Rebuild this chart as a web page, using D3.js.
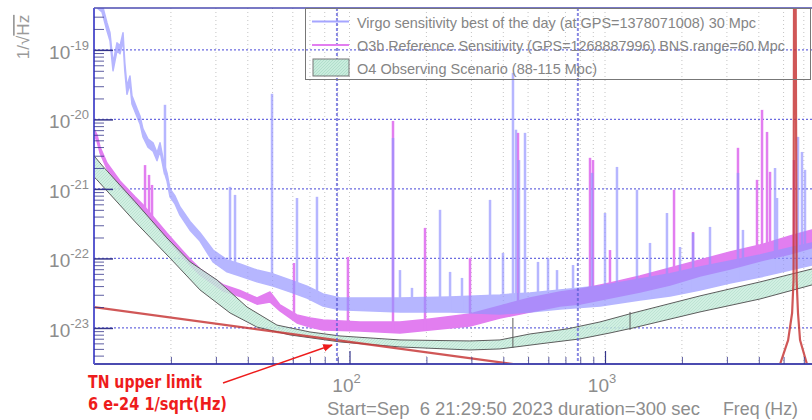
<!DOCTYPE html>
<html>
<head>
<meta charset="utf-8">
<script src="https://cdn.jsdelivr.net/npm/d3@7"></script>
<style>
  body { margin: 0; background: #fff; }
  svg { display: block; }
</style>
</head>
<body>
<div id="chart"></div>
<script>
// Virgo sensitivity, best of the day: noise band (upper / lower edge) in 1/sqrt(Hz)
const virgoFreq = [10, 10.37, 10.75, 11.24, 11.55, 11.87, 12.30, 12.64, 12.99, 13.20, 13.46, 13.83, 14.08, 14.74, 15.14, 15.55, 16.27, 17.02, 17.65, 18.13, 18.78, 19.31, 19.84, 20.75, 21.71, 23.76, 25.99, 29.23, 33.16, 37.28, 43.45, 50.19, 58.49, 68.2, 78.8, 91.8, 157.6, 247.5, 388.2, 508.7, 666.6, 955.9, 1371, 1797, 2354, 3085, 4044, 5298, 6460];
const virgoHi = [1.0e-18, 5.0e-19, 4.6e-19, 2.45e-19, 1.76e-19, 6.5e-20, 1.26e-19, 1.14e-19, 1.76e-19, 6.5e-20, 3.0e-20, 4.2e-20, 2.18e-20, 1.42e-20, 1.12e-20, 7.3e-21, 5.2e-21, 4.6e-21, 3.3e-21, 4.6e-21, 2.36e-21, 1.7e-21, 1.0e-21, 7.9e-22, 5.5e-22, 3.4e-22, 2.35e-22, 1.32e-22, 9.5e-23, 8.3e-23, 6.8e-23, 6.0e-23, 4.9e-23, 4.0e-23, 3.08e-23, 2.7e-23, 2.7e-23, 2.79e-23, 2.99e-23, 3.19e-23, 3.52e-23, 4.0e-23, 5.07e-23, 6.0e-23, 7.55e-23, 9.2e-23, 1.12e-22, 1.42e-22, 1.67e-22];
const virgoLo = [8.0e-19, 3.9e-19, 3.5e-19, 1.88e-19, 1.35e-19, 5.0e-20, 9.7e-20, 8.8e-20, 1.35e-19, 5.0e-20, 2.3e-20, 3.24e-20, 1.67e-20, 1.09e-20, 8.6e-21, 5.6e-21, 4.0e-21, 3.5e-21, 2.55e-21, 3.5e-21, 1.81e-21, 1.3e-21, 7.7e-22, 6.1e-22, 4.2e-22, 2.55e-22, 1.78e-22, 8.9e-23, 6.4e-23, 5.6e-23, 4.6e-23, 4.0e-23, 3.3e-23, 2.7e-23, 2.07e-23, 1.82e-23, 1.70e-23, 1.70e-23, 1.59e-23, 1.70e-23, 1.88e-23, 2.07e-23, 2.53e-23, 2.88e-23, 3.52e-23, 4.44e-23, 5.4e-23, 6.8e-23, 8.05e-23];
// lines: [frequency, peak value]
const virgoSpikes = [[18.96, 1.62e-20], [34.07, 1.07e-21], [35.64, 8.2e-22], [49.74, 2.33e-20], [62.3, 7.4e-22], [74.6, 7.7e-22], [148.0, 5.4e-21], [157.6, 6.8e-23], [175.6, 3.77e-23], [226.1, 5.0e-22], [247.5, 6.4e-23], [275.6, 5.24e-23], [354.8, 6.95e-22], [398.8, 1.2e-22], [436.4, 4.67e-20], [448.4, 7.1e-21], [460.7, 2.6e-21], [486.3, 6.4e-21], [546.7, 8.9e-23], [598.4, 1.02e-22], [648.9, 6.8e-23], [749.7, 8.05e-23], [889.6, 1.70e-21], [1000, 4.5e-22], [1114, 2.07e-21], [1334, 9.7e-22], [1500, 1.67e-22], [1748, 4.5e-22], [1966, 1.46e-22], [2211, 2.33e-22], [2576, 2.84e-22], [3315, 1.70e-21], [3467, 2.57e-22], [4629, 2.0e-21], [4713, 7.4e-22], [5693, 5.6e-21], [5902, 3.4e-21], [6064, 1.88e-21]];

// O3b reference sensitivity
const o3bFreq = [10, 10.27, 10.56, 11.24, 12.64, 14.47, 15.55, 17.33, 19.31, 21.71, 23.76, 25.99, 29.23, 31.98, 37.28, 43.45, 48.85, 53.46, 62.3, 70.1, 78.8, 109.9, 157.6, 206.6, 296.2, 388.2, 508.7, 666.6, 798.4, 1046, 1371, 1797, 2354, 3085, 4044, 5298, 6460];
const o3bHi = [7.3e-21, 6.0e-21, 4.0e-21, 2.36e-21, 1.3e-21, 7.7e-22, 5.9e-22, 3.7e-22, 2.3e-22, 1.41e-22, 9.8e-23, 7.1e-23, 5.2e-23, 4.2e-23, 3.45e-23, 2.7e-23, 3.3e-23, 2.14e-23, 1.54e-23, 1.39e-23, 1.30e-23, 1.22e-23, 1.22e-23, 1.35e-23, 1.59e-23, 2.07e-23, 2.7e-23, 3.3e-23, 3.6e-23, 4.44e-23, 5.6e-23, 7.3e-23, 9.5e-23, 1.24e-22, 1.56e-22, 2.1e-22, 2.57e-22];
const o3bLo = [6.0e-21, 4.9e-21, 3.3e-21, 1.94e-21, 1.07e-21, 6.3e-22, 4.8e-22, 3.0e-22, 1.9e-22, 1.16e-22, 8.1e-23, 5.8e-23, 4.3e-23, 3.4e-23, 2.84e-23, 2.2e-23, 2.37e-23, 1.76e-23, 1.18e-23, 1.03e-23, 9.35e-24, 9.05e-24, 8.47e-24, 9.35e-24, 1.07e-23, 1.39e-23, 1.7e-23, 2.07e-23, 2.21e-23, 2.7e-23, 3.3e-23, 4.16e-23, 5.6e-23, 7.06e-23, 9.2e-23, 1.16e-22, 1.42e-22];
const o3bSpikes = [[15.84, 2.2e-21], [16.42, 1.59e-21], [16.87, 1.14e-21], [60.64, 8.6e-23], [98.6, 1.05e-22], [148.0, 9.5e-21], [197.5, 2.75e-22], [296.2, 1.02e-22], [456.6, 6.4e-21], [873.7, 2.8e-21], [897.6, 2.6e-21], [1046, 1.32e-22], [1863, 9.7e-22], [2211, 2.4e-22], [3315, 3.9e-21], [3935, 1.35e-21], [4117, 1.37e-20], [4307, 6.6e-21], [4425, 1.76e-21], [5493, 2.6e-21]];

// O4 observing scenario band (88-115 Mpc)
const o4UpperFreq = [10, 10.8, 14.5, 19.3, 23.8, 30.3, 39.7, 52.0, 70, 91.8, 157.6, 296, 388, 509, 710, 956, 1287, 2354, 4044, 6460, 10000];
const o4Upper = [2.99e-21, 2.14e-21, 6.5e-22, 1.97e-22, 8.9e-23, 4.9e-23, 2.0e-23, 1.10e-23, 8.75e-24, 7.67e-24, 6.72e-24, 6.5e-24, 6.72e-24, 8.2e-24, 9.67e-24, 1.22e-23, 1.64e-23, 2.89e-23, 4.59e-23, 7.06e-23, 1.06e-22];
const o4LowerFreq = [10, 10.27, 14.5, 19.8, 26.0, 34.1, 43.4, 58.5, 91.8, 157.6, 296, 388, 593, 798, 1046, 1287, 2354, 4044, 6460, 10000];
const o4Lower = [1.49e-21, 1.35e-21, 3.35e-22, 1.02e-22, 3.52e-23, 1.64e-23, 1.03e-23, 7.93e-24, 6.29e-24, 5.33e-24, 4.82e-24, 4.99e-24, 6.08e-24, 6.95e-24, 8.47e-24, 1.0e-23, 1.70e-23, 2.61e-23, 4.16e-23, 6.4e-23];
// small lines on the band: [frequency, top, bottom]
const o4Lines = [[436, 1.39e-23, 5.15e-24], [1253, 1.70e-23, 9.35e-24]];

// thermal noise upper limit, with the resonance near 5.5 kHz
const tnFreq = [10, 100, 1000, 4500, 4842, 5209, 5399, 5470, 5500, 5560, 5623, 5693, 5799, 6175, 7000];
const tnAsd = [2.0e-23, 6.3e-24, 2.0e-24, 9.4e-25, 3.0e-24, 6.7e-24, 1.64e-23, 4.9e-23, 1e-17, 1e-17, 4.9e-23, 1.64e-23, 6.7e-24, 3.0e-24, 7.5e-25];

// vertical cursor lines (Hz)
const cursorFreq = [89.3, 783];

const xMajor = [100, 1000];
const xMinor = [20, 30, 40, 50, 60, 70, 80, 90, 200, 300, 400, 500, 600, 700, 800, 900, 2000, 3000, 4000, 5000, 6000, 7000, 8000, 9000];
const yDecades = [-24, -23, -22, -21, -20, -19];
const yLabels = [-23, -22, -21, -20, -19];

const legendLabels = [
  "Virgo sensitivity best of the day (at GPS=1378071008) 30 Mpc",
  "O3b Reference Sensitivity (GPS=1268887996) BNS range=60 Mpc",
  "O4 Observing Scenario (88-115 Mpc)"
];

const W = 812, H = 420;
const plotLeft = 94, plotTop = 8, plotBottom = 364;
const font = "'Liberation Sans', Arial, Helvetica, sans-serif";
const labelGray = "#8d8d8d";

const x = d3.scaleLog().domain([10, 10000]).range([plotLeft, 860.5]);
const y = d3.scaleLog().domain([3.03e-24, 4.0e-19]).range([plotBottom, plotTop]);

const svg = d3.select("#chart").append("svg")
  .attr("width", W)
  .attr("height", H);

const defs = svg.append("defs");
defs.append("clipPath").attr("id", "plot-clip")
  .append("rect")
  .attr("x", plotLeft).attr("y", plotTop)
  .attr("width", W - plotLeft).attr("height", plotBottom - plotTop);

const hatch = defs.append("pattern")
  .attr("id", "hatch")
  .attr("patternUnits", "userSpaceOnUse")
  .attr("width", 3).attr("height", 3);
hatch.append("rect").attr("width", 3).attr("height", 3).attr("fill", "#c9ecdd");
hatch.append("path").attr("d", "M0,3 L3,0").attr("stroke", "#a6dac3").attr("stroke-width", 0.7);

// grid
const grid = svg.append("g");
grid.selectAll(".xgrid")
  .data(xMinor.concat(xMajor))
  .enter().append("line")
  .attr("x1", d => x(d)).attr("x2", d => x(d))
  .attr("y1", plotTop).attr("y2", plotBottom)
  .attr("stroke", "#c4c4c4")
  .attr("stroke-dasharray", "1,3");
grid.selectAll(".ygrid")
  .data(yLabels)
  .enter().append("line")
  .attr("x1", plotLeft).attr("x2", W)
  .attr("y1", d => y(Math.pow(10, d))).attr("y2", d => y(Math.pow(10, d)))
  .attr("stroke", "#6b6be0")
  .attr("stroke-width", 1.2)
  .attr("stroke-dasharray", "2,2");

const plot = svg.append("g").attr("clip-path", "url(#plot-clip)");

function band(freq, hi, lo) {
  return freq.map((f, i) => [f, hi[i]])
    .concat(freq.map((f, i) => [f, lo[i]]).reverse());
}

// value of a band edge at a frequency (log-log between read points)
function edgeAt(freq, vals, f) {
  let i = d3.bisectLeft(freq, f);
  i = Math.max(1, Math.min(freq.length - 1, i));
  const t = (Math.log10(f) - Math.log10(freq[i - 1])) / (Math.log10(freq[i]) - Math.log10(freq[i - 1]));
  return Math.pow(10, Math.log10(vals[i - 1]) + t * (Math.log10(vals[i]) - Math.log10(vals[i - 1])));
}

const line = d3.line().x(d => x(d[0])).y(d => y(d[1]));

// O3b
plot.append("path")
  .attr("d", line(band(o3bFreq, o3bHi, o3bLo)) + "Z")
  .attr("fill", "#e27ef0")
  .attr("stroke", "#e27ef0")
  .attr("stroke-width", 1.5)
  .attr("stroke-linejoin", "round");
plot.selectAll(".o3b-spike")
  .data(o3bSpikes)
  .enter().append("line")
  .attr("x1", d => x(d[0])).attr("x2", d => x(d[0]))
  .attr("y1", d => y(d[1]))
  .attr("y2", d => y(edgeAt(o3bFreq, o3bLo, d[0])))
  .attr("stroke", "#e27ef0")
  .attr("stroke-width", 2.5);

// Virgo
const virgo = plot.append("g").attr("opacity", 0.68);
virgo.append("path")
  .attr("d", line(band(virgoFreq, virgoHi, virgoLo)) + "Z")
  .attr("fill", "#9494ff")
  .attr("stroke", "#9494ff")
  .attr("stroke-width", 1.5)
  .attr("stroke-linejoin", "round");
virgo.selectAll(".virgo-spike")
  .data(virgoSpikes)
  .enter().append("line")
  .attr("x1", d => x(d[0])).attr("x2", d => x(d[0]))
  .attr("y1", d => y(d[1]))
  .attr("y2", d => y(edgeAt(virgoFreq, virgoLo, d[0])))
  .attr("stroke", "#9494ff")
  .attr("stroke-width", 2.5);

// O4 band
const o4Poly = o4UpperFreq.map((f, i) => [f, o4Upper[i]])
  .concat(o4LowerFreq.map((f, i) => [f, o4Lower[i]]).reverse());
plot.append("path")
  .attr("d", line(o4Poly) + "Z")
  .attr("fill", "url(#hatch)")
  .attr("fill-opacity", 0.85);
plot.append("path")
  .attr("d", line(o4UpperFreq.map((f, i) => [f, o4Upper[i]])))
  .attr("fill", "none").attr("stroke", "#5d5d5d").attr("stroke-width", 1);
plot.append("path")
  .attr("d", line(o4LowerFreq.map((f, i) => [f, o4Lower[i]])))
  .attr("fill", "none").attr("stroke", "#5d5d5d").attr("stroke-width", 1);
plot.selectAll(".o4-line")
  .data(o4Lines)
  .enter().append("line")
  .attr("x1", d => x(d[0])).attr("x2", d => x(d[0]))
  .attr("y1", d => y(d[1])).attr("y2", d => y(d[2]))
  .attr("stroke", "#5d5d5d");

// thermal noise
plot.append("path")
  .attr("d", line(tnFreq.map((f, i) => [f, tnAsd[i]])))
  .attr("fill", "none")
  .attr("stroke", "#c83a3a")
  .attr("stroke-opacity", 0.85)
  .attr("stroke-width", 2.2)
  .attr("stroke-linejoin", "round");

// cursors
svg.selectAll(".cursor")
  .data(cursorFreq)
  .enter().append("line")
  .attr("x1", d => x(d)).attr("x2", d => x(d))
  .attr("y1", plotTop).attr("y2", plotBottom)
  .attr("stroke", "#5f5fd8")
  .attr("stroke-opacity", 0.75)
  .attr("stroke-width", 2)
  .attr("stroke-dasharray", "3,2");

// axes
const axisColor = "#35358a";
svg.append("line").attr("x1", plotLeft).attr("x2", W).attr("y1", plotTop).attr("y2", plotTop)
  .attr("stroke", "#4b4bb0").attr("stroke-width", 1.5);
svg.append("line").attr("x1", plotLeft).attr("x2", W).attr("y1", plotBottom).attr("y2", plotBottom)
  .attr("stroke", "#4b4bb0").attr("stroke-width", 2);
svg.append("line").attr("x1", plotLeft).attr("x2", plotLeft).attr("y1", plotTop).attr("y2", plotBottom)
  .attr("stroke", "#5a5ad0").attr("stroke-width", 2);

const yMinor = [];
yDecades.forEach(d => { for (let m = 2; m <= 9; m++) yMinor.push(m * Math.pow(10, d)); });
const yMinorIn = yMinor.filter(v => v > 3.03e-24 && v < 4.0e-19);

svg.append("g")
  .attr("transform", `translate(${plotLeft},0)`)
  .call(d3.axisLeft(y).tickValues(yLabels.map(d => Math.pow(10, d))).tickSize(-19).tickFormat(""))
  .call(g => g.select(".domain").remove())
  .call(g => g.selectAll("line").attr("stroke", axisColor).attr("stroke-width", 1.5));
svg.append("g")
  .attr("transform", `translate(${plotLeft},0)`)
  .call(d3.axisLeft(y).tickValues(yMinorIn).tickSize(-10).tickFormat(""))
  .call(g => g.select(".domain").remove())
  .call(g => g.selectAll("line").attr("stroke", axisColor).attr("stroke-opacity", 0.8));

svg.append("g")
  .attr("transform", `translate(0,${plotBottom})`)
  .call(d3.axisBottom(x).tickValues(xMajor).tickSize(-13).tickFormat(""))
  .call(g => g.select(".domain").remove())
  .call(g => g.selectAll("line").attr("stroke", axisColor).attr("stroke-width", 1.2));
svg.append("g")
  .attr("transform", `translate(0,${plotBottom})`)
  .call(d3.axisBottom(x).tickValues(xMinor).tickSize(-7).tickFormat(""))
  .call(g => g.select(".domain").remove())
  .call(g => g.selectAll("line").attr("stroke", axisColor).attr("stroke-opacity", 0.8));

// tick labels
const yl = svg.append("g").attr("font-family", font).attr("fill", labelGray);
yLabels.forEach(d => {
  const t = yl.append("text")
    .attr("x", 89)
    .attr("y", y(Math.pow(10, d)) + 9)
    .attr("text-anchor", "end")
    .attr("font-size", 19);
  t.append("tspan").text("10");
  t.append("tspan").attr("dy", -9).attr("font-size", 13).text(d);
});
xMajor.forEach(v => {
  const t = yl.append("text")
    .attr("x", x(v) - 3)
    .attr("y", 392)
    .attr("text-anchor", "middle")
    .attr("font-size", 19);
  t.append("tspan").text("10");
  t.append("tspan").attr("dy", -9).attr("font-size", 13).text(Math.round(Math.log10(v)));
});

const yTitle = svg.append("text")
  .attr("transform", "translate(29,37) rotate(-90)")
  .attr("text-anchor", "middle")
  .attr("font-family", font)
  .attr("font-size", 17)
  .attr("fill", "#9a9a9a");
yTitle.append("tspan").text("1/\u221A");
yTitle.append("tspan").attr("text-decoration", "overline").text("Hz");

svg.append("text")
  .attr("x", 327).attr("y", 415)
  .attr("font-family", font).attr("font-size", 18)
  .attr("fill", labelGray)
  .attr("textLength", 373).attr("lengthAdjust", "spacingAndGlyphs")
  .attr("xml:space", "preserve")
  .text("Start=Sep  6 21:29:50 2023 duration=300 sec");
svg.append("text")
  .attr("x", 723).attr("y", 415)
  .attr("font-family", font).attr("font-size", 18)
  .attr("fill", labelGray)
  .attr("textLength", 75).attr("lengthAdjust", "spacingAndGlyphs")
  .text("Freq (Hz)");

// legend
const lg = svg.append("g").attr("font-family", font).attr("font-size", 14.5).attr("fill", "#858585");
lg.append("rect")
  .attr("x", 305.5).attr("y", plotTop + 0.5)
  .attr("width", 505).attr("height", 71)
  .attr("fill", "none").attr("stroke", "#777").attr("stroke-width", 1);
lg.append("line").attr("x1", 312).attr("x2", 349).attr("y1", 21.5).attr("y2", 21.5)
  .attr("stroke", "#a5a5ff").attr("stroke-width", 2);
lg.append("line").attr("x1", 312).attr("x2", 349).attr("y1", 45).attr("y2", 45)
  .attr("stroke", "#e27ef0").attr("stroke-width", 2);
lg.append("rect").attr("x", 313).attr("y", 59).attr("width", 36).attr("height", 17)
  .attr("fill", "url(#hatch)").attr("stroke", "#777");
const legendWidths = [399, 428, 240];
const legendBase = [28, 51, 74];
legendLabels.forEach((s, i) => {
  lg.append("text")
    .attr("x", 357).attr("y", legendBase[i])
    .attr("textLength", legendWidths[i]).attr("lengthAdjust", "spacingAndGlyphs")
    .text(s);
});

// annotation
const red = "#ee1c1c";
defs.append("marker")
  .attr("id", "arrow")
  .attr("viewBox", "0 0 10 10")
  .attr("refX", 9).attr("refY", 5)
  .attr("markerWidth", 7).attr("markerHeight", 7)
  .attr("orient", "auto")
  .append("path").attr("d", "M0,1 L10,5 L0,9 Z").attr("fill", red);
svg.append("line")
  .attr("x1", 223).attr("y1", 383)
  .attr("x2", 332).attr("y2", 345)
  .attr("stroke", red).attr("stroke-width", 1.4)
  .attr("marker-end", "url(#arrow)");
const ann = svg.append("g")
  .attr("font-family", "'DejaVu Sans', Verdana, sans-serif")
  .attr("font-weight", "bold")
  .attr("font-size", 17)
  .attr("fill", red);
ann.append("text").attr("x", 88).attr("y", 388)
  .attr("textLength", 114).attr("lengthAdjust", "spacingAndGlyphs")
  .text("TN upper limit");
ann.append("text").attr("x", 88).attr("y", 410)
  .attr("textLength", 139).attr("lengthAdjust", "spacingAndGlyphs")
  .text("6 e-24 1/sqrt(Hz)");
</script>
</body>
</html>
